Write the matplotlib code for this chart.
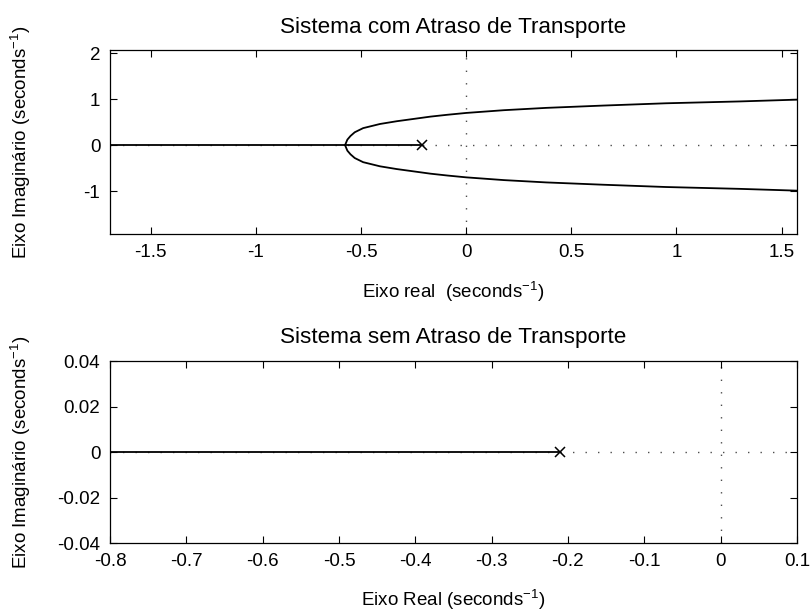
import matplotlib
matplotlib.use("Agg")
import matplotlib.pyplot as plt
import numpy as np

plt.rcParams['font.family'] = ['Liberation Sans', 'DejaVu Sans']
plt.rcParams['mathtext.default'] = 'regular'
plt.rcParams['axes.unicode_minus'] = False
plt.rcParams['font.size'] = 13.5

# open-loop pole (both systems)
pole_re = [-0.21]
pole_im = [0.0]

# with transport delay: real-axis branch and the complex pair leaving the breakaway point
delay_axis_re = [-2.0, -0.576, -0.21]
delay_axis_im = [0.0, 0.0, 0.0]
delay_cplx_re = [-0.576, -0.565, -0.55, -0.53, -0.49, -0.41, -0.33, -0.25, -0.17,
                 -0.09, 0.0, 0.18, 0.38, 0.65, 0.95, 1.3, 1.58]
delay_cplx_im = [0.0, 0.12, 0.20, 0.28, 0.37, 0.46, 0.52, 0.57, 0.62,
                 0.66, 0.70, 0.76, 0.81, 0.86, 0.91, 0.95, 0.99]

# without transport delay: single real branch
nodelay_re = [-1.0, -0.21]
nodelay_im = [0.0, 0.0]

top_xticks = [-1.5, -1, -0.5, 0, 0.5, 1, 1.5]
top_xlabels = ['-1.5', '-1', '-0.5', '0', '0.5', '1', '1.5']
top_yticks = [-1, 0, 1, 2]
bot_xticks = [-0.8, -0.7, -0.6, -0.5, -0.4, -0.3, -0.2, -0.1, 0, 0.1]
bot_xlabels = ['-0.8', '-0.7', '-0.6', '-0.5', '-0.4', '-0.3', '-0.2', '-0.1', '0', '0.1']
bot_yticks = [-0.04, -0.02, 0, 0.02, 0.04]
bot_ylabels = ['-0.04', '-0.02', '0', '0.02', '0.04']

fig = plt.figure(figsize=(8.1, 6.14), dpi=100)
ax1 = fig.add_axes([0.1358, 0.619, 0.848, 0.2997])
ax2 = fig.add_axes([0.1358, 0.1156, 0.848, 0.2964])

dots = dict(color='0.3', lw=1.0, linestyle=(0, (1, 8)), zorder=1)


def style(ax):
    ax.tick_params(direction='in', length=5, width=0.8, top=True, right=True, pad=7)
    for s in ax.spines.values():
        s.set_linewidth(0.9)
    ax.yaxis.set_label_coords(-0.112, 0.5)


# top: system with transport delay
ax1.axhline(0, **dots)
ax1.axvline(0, **dots)
ax1.plot(delay_axis_re, delay_axis_im, color='k', lw=1.3)
ax1.plot(delay_cplx_re, delay_cplx_im, color='k', lw=1.3)
ax1.plot(delay_cplx_re, -np.array(delay_cplx_im), color='k', lw=1.3)
ax1.plot(pole_re, pole_im, 'x', color='k', ms=7, mew=1.1)
ax1.set_xlim(-1.694, 1.573)
ax1.set_ylim(-1.93, 2.07)
ax1.set_xticks(top_xticks)
ax1.set_xticklabels(top_xlabels)
ax1.set_yticks(top_yticks)
ax1.set_title('Sistema com Atraso de Transporte', pad=12)
ax1.set_xlabel('Eixo real  (seconds$^{-1}$)', labelpad=14)
ax1.set_ylabel('Eixo Imaginário (seconds$^{-1}$)')
style(ax1)

# bottom: system without transport delay
ax2.axhline(0, **dots)
ax2.axvline(0, **dots)
ax2.plot(nodelay_re, nodelay_im, color='k', lw=1.3)
ax2.plot(pole_re, pole_im, 'x', color='k', ms=7, mew=1.1)
ax2.set_xlim(-0.8, 0.1)
ax2.set_ylim(-0.04, 0.04)
ax2.set_xticks(bot_xticks)
ax2.set_xticklabels(bot_xlabels)
ax2.set_yticks(bot_yticks)
ax2.set_yticklabels(bot_ylabels)
ax2.set_title('Sistema sem Atraso de Transporte', pad=13)
ax2.set_xlabel('Eixo Real (seconds$^{-1}$)', labelpad=13)
ax2.set_ylabel('Eixo Imaginário (seconds$^{-1}$)')
style(ax2)

fig.savefig('out.png', dpi=100)
